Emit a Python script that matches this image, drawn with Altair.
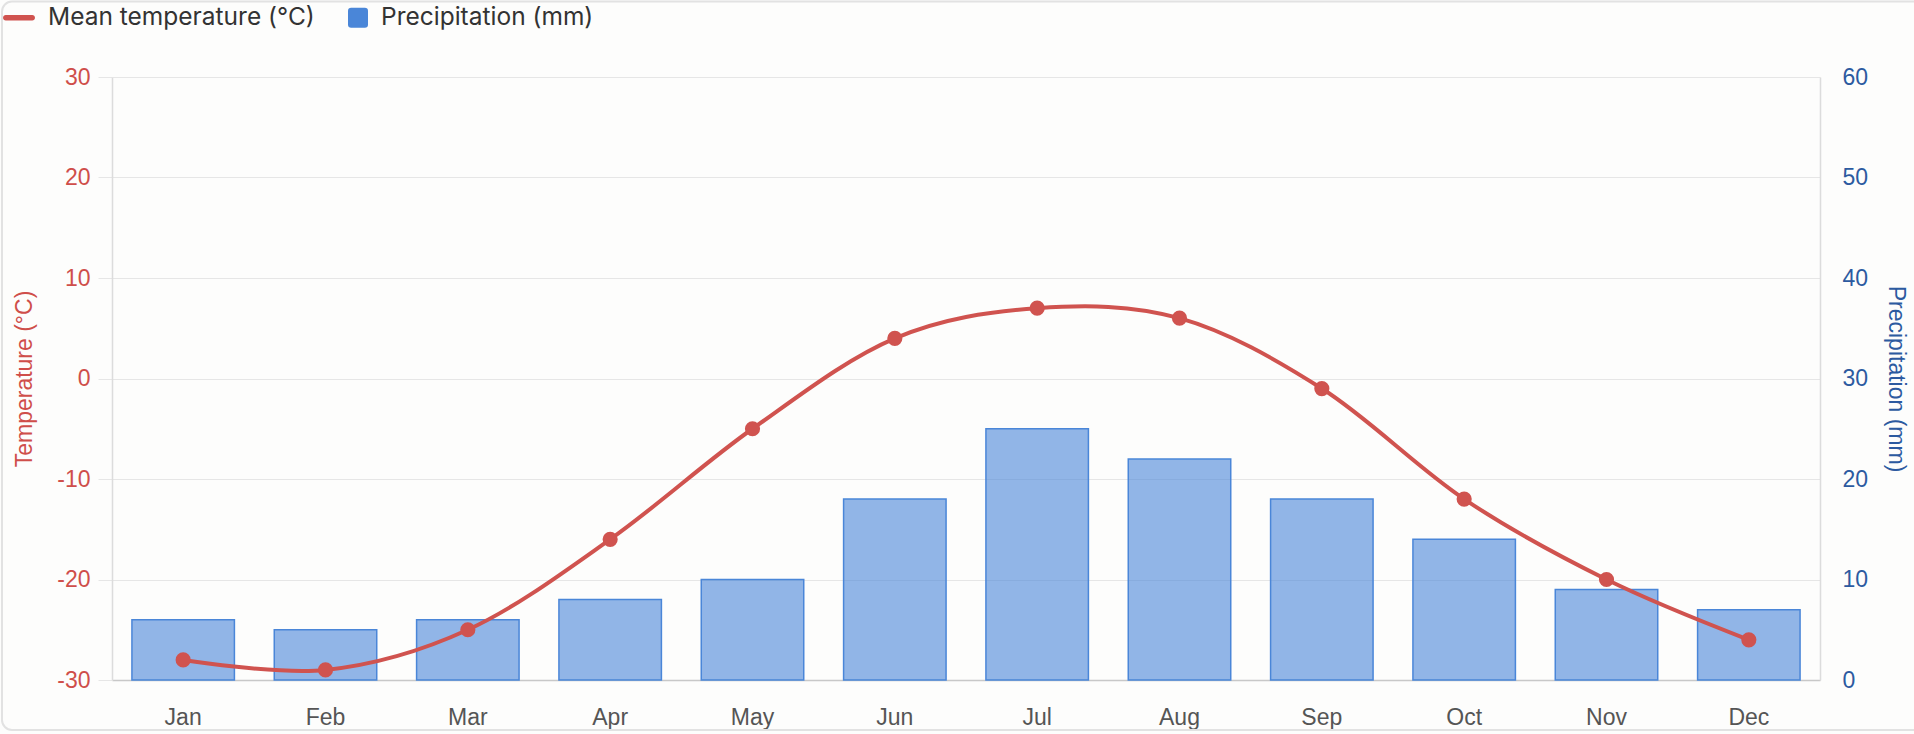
import altair as alt
import pandas as pd

# ---- data ----
months = ["Jan", "Feb", "Mar", "Apr", "May", "Jun", "Jul", "Aug", "Sep", "Oct", "Nov", "Dec"]
mean_temp = [-28, -29, -25, -16, -5, 4, 7, 6, -1, -12, -20, -26]
precipitation = [6, 5, 6, 8, 10, 18, 25, 22, 18, 14, 9, 7]
series_names = ["Mean temperature (°C)", "Precipitation (mm)"]
temp_ticks = [-30, -20, -10, 0, 10, 20, 30]
precip_ticks = [0, 10, 20, 30, 40, 50, 60]

# ---- styles ----
RED = "#d0534f"
RED_TEXT = "#cf4e4a"
BLUE = "#4a86d8"
BLUE_TEXT = "#2c5aa0"
GRID = "#e6e6e6"
AXIS_FONT = "Liberation Sans"
LEG_FONT = "Inter"
W, H = 1708, 603
PAD = {"left": 112, "top": 77, "right": 94, "bottom": 54}

LINE_PATH = ("M-0.83,-0.17 L0.83,-0.17 A0.17,0.17 0 0 1 0.83,0.17 "
             "L-0.83,0.17 A0.17,0.17 0 0 1 -0.83,-0.17 Z")
SQUARE_PATH = ("M-0.05,-0.625 L0.8,-0.625 Q1,-0.625 1,-0.425 L1,0.425 Q1,0.625 0.8,0.625 "
               "L-0.05,0.625 Q-0.25,0.625 -0.25,0.425 L-0.25,-0.425 Q-0.25,-0.625 -0.05,-0.625 Z")

df = pd.DataFrame({"month": months, "temp": mean_temp, "precip": precipitation})
legend_df = pd.DataFrame({"series": series_names})
frame_df = pd.DataFrame({"frame": [0]})

x_enc = alt.X(
    "month:N", sort=months, title=None,
    scale=alt.Scale(paddingInner=0.28, paddingOuter=0.14),
    axis=alt.Axis(labelAngle=0, ticks=False, tickSize=0, grid=False,
                  domainColor="#c8c8c8", domainWidth=1.5,
                  labelFont=AXIS_FONT, labelFontSize=23, labelColor="#555555",
                  labelPadding=26),
)

y_precip = alt.Y(
    "precip:Q",
    scale=alt.Scale(domain=[0, 60], nice=False, zero=True),
    axis=alt.Axis(orient="right", values=precip_ticks, grid=False, ticks=False, tickSize=0,
                  domainColor="#dcdcdc", domainWidth=1.5,
                  labelFont=AXIS_FONT, labelFontSize=23, labelColor=BLUE_TEXT, labelPadding=22,
                  title="Precipitation (mm)", titleFont=AXIS_FONT, titleFontSize=23,
                  titleFontWeight="normal", titleColor=BLUE_TEXT, titleAngle=90,
                  titleX=75, titleY=H / 2, titleBaseline="middle", titleAlign="center"),
)

y_temp = alt.Y(
    "temp:Q",
    scale=alt.Scale(domain=[-30, 30], nice=False, zero=False),
    axis=alt.Axis(orient="left", values=temp_ticks, grid=True, gridColor=GRID, gridWidth=1,
                  ticks=True, tickSize=14, tickColor=GRID,
                  domainColor="#dcdcdc", domainWidth=1.5,
                  labelExpr="'' + datum.value",
                  labelFont=AXIS_FONT, labelFontSize=23, labelColor=RED_TEXT, labelPadding=8,
                  title="Temperature (°C)", titleFont=AXIS_FONT, titleFontSize=23,
                  titleFontWeight="normal", titleColor=RED_TEXT, titleAngle=270,
                  titleX=-88, titleY=H / 2, titleBaseline="middle", titleAlign="center"),
)

frame = alt.Chart(frame_df).mark_rect(
    fillOpacity=0, stroke="#e2e2e2", strokeWidth=2, cornerRadius=10
).encode(
    x=alt.value(2 - PAD["left"]), x2=alt.value(1925 - PAD["left"]),
    y=alt.value(1.5 - PAD["top"]), y2=alt.value(730 - PAD["top"]),
)

bars = alt.Chart(df).mark_bar(
    fill=BLUE, fillOpacity=0.6, stroke=BLUE, strokeWidth=1.5
).encode(x=x_enc, y=y_precip)

line = alt.Chart(df).mark_line(
    color=RED, strokeWidth=4, interpolate="cardinal",
    point=alt.OverlayMarkDef(filled=True, size=230, color=RED, opacity=1, strokeWidth=0),
).encode(x=x_enc, y=y_temp)

leg = alt.Legend(
    title=None, orient="none", legendX=3 - PAD["left"], legendY=1.5 - PAD["top"],
    direction="horizontal", columns=2, padding=0,
    symbolSize=1024, symbolStrokeWidth=0, symbolOpacity=1,
    labelFont=LEG_FONT, labelFontSize=24.5, labelColor="#333333",
    labelOffset=13, columnPadding=21, labelLimit=400,
)

legend_layer = alt.Chart(legend_df).mark_point(
    filled=True, opacity=1, strokeWidth=0, clip=True
).encode(
    x=alt.value(-5000), y=alt.value(-5000),
    color=alt.Color("series:N", sort=series_names,
                    scale=alt.Scale(domain=series_names, range=[RED, BLUE]), legend=leg),
    shape=alt.Shape("series:N", sort=series_names,
                    scale=alt.Scale(domain=series_names, range=[LINE_PATH, SQUARE_PATH]), legend=leg),
)

chart = alt.layer(frame, bars, line, legend_layer).resolve_scale(
    y="independent"
).properties(
    width=W, height=H,
    autosize=alt.AutoSizeParams(type="none"),
    padding=PAD,
    background="#fdfdfc",
).configure_view(strokeWidth=0)

chart.save("out.html", embed_options={"renderer": "svg", "actions": False})
